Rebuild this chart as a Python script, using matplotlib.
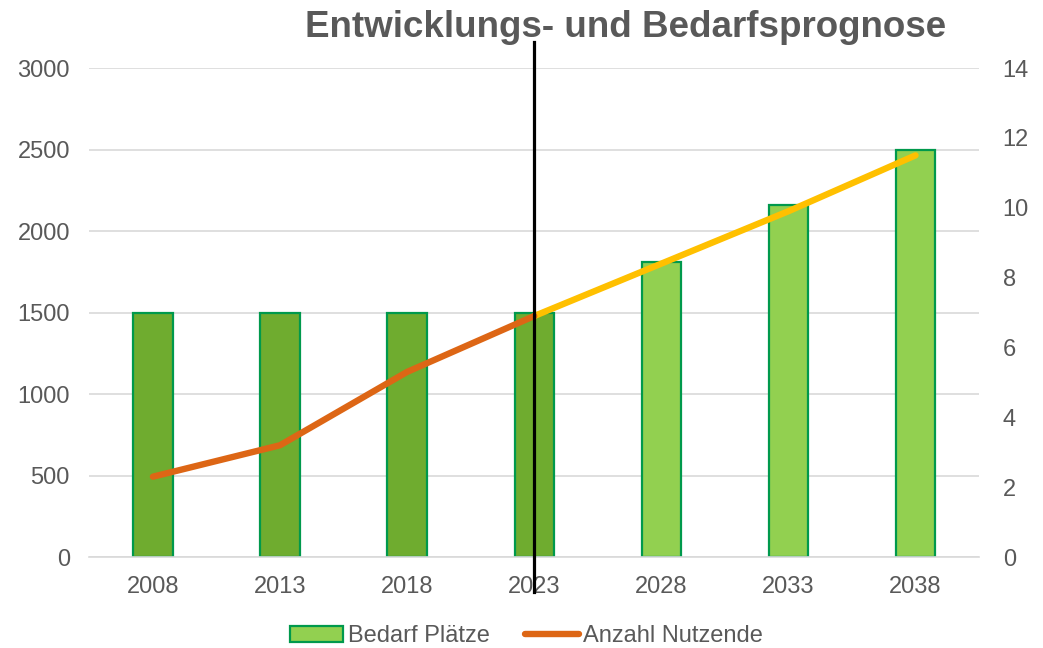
import matplotlib
matplotlib.use("Agg")
import matplotlib.pyplot as plt
from matplotlib.patches import Patch
from matplotlib.lines import Line2D
import numpy as np

years = ["2008", "2013", "2018", "2023", "2028", "2033", "2038"]
bedarf_plaetze = [1500, 1500, 1500, 1500, 1810, 2160, 2500]
anzahl_nutzende = [2.3, 3.2, 5.3, 6.9, 8.4, 9.9, 11.5]
left_ticks = [0, 500, 1000, 1500, 2000, 2500, 3000]
right_ticks = [0, 2, 4, 6, 8, 10, 12, 14]
current_index = 3  # 2023

plt.rcParams['font.family'] = ['Liberation Sans', 'DejaVu Sans']
TXT = '#595959'
DARK = '#6FAC2F'
LIGHT = '#92D050'
EDGE = '#00994C'
ORANGE = '#DD6615'
YELLOW = '#FFC000'
FS = 17

fig = plt.figure(figsize=(10.43, 6.48), dpi=100)
ax = fig.add_axes([0.0857, 0.1404, 0.853, 0.7546])
x = np.arange(len(years))
colors = [DARK if i <= current_index else LIGHT for i in range(len(years))]
ax.bar(x, bedarf_plaetze, width=0.31, color=colors, edgecolor=EDGE, linewidth=1.6, zorder=2)
ax.set_xlim(-0.5, len(years) - 0.5)
ax.set_ylim(0, 3000)
ax.set_yticks(left_ticks)
ax.set_xticks(x)
ax.set_xticklabels(years)
ax.yaxis.grid(True, color='#D9D9D9', linewidth=1.2, zorder=0)
ax.set_axisbelow(True)
for s in ['top', 'right', 'left']:
    ax.spines[s].set_visible(False)
ax.spines['bottom'].set_color('#D9D9D9')
ax.spines['bottom'].set_linewidth(1.2)
ax.tick_params(axis='both', length=0, labelsize=FS, labelcolor=TXT)
ax.tick_params(axis='y', pad=14)
ax.tick_params(axis='x', pad=14)

ax2 = ax.twinx()
ax2.set_ylim(0, 14)
ax2.set_yticks(right_ticks)
for s in ax2.spines.values():
    s.set_visible(False)
ax2.tick_params(axis='y', length=0, labelsize=FS, labelcolor=TXT, pad=17)
ax2.plot(x[current_index:], anzahl_nutzende[current_index:], color=YELLOW, linewidth=4.6,
         solid_capstyle='round', zorder=3)
ax2.plot(x[:current_index + 1], anzahl_nutzende[:current_index + 1], color=ORANGE, linewidth=4.6,
         solid_capstyle='round', zorder=4)
ax2.axvline(current_index, ymin=-0.0716, ymax=1.053, color='black', linewidth=2.3,
            clip_on=False, zorder=5)

fig.text(0.5997, 0.957, "Entwicklungs- und Bedarfsprognose", ha='center', va='center',
         fontsize=26.5, fontweight='bold', color=TXT)

handles = [Patch(facecolor=LIGHT, edgecolor=EDGE, linewidth=1.6),
           Line2D([0], [0], color=ORANGE, linewidth=4.6, solid_capstyle='round')]
fig.legend(handles, ["Bedarf Plätze", "Anzahl Nutzende"], loc='center',
           bbox_to_anchor=(0.505, 0.0185), ncol=2, frameon=False, fontsize=FS,
           labelcolor=TXT, handlelength=2.25, handletextpad=0.2, columnspacing=1.5,
           handleheight=0.65, borderaxespad=0, borderpad=0)

fig.savefig("out.png", dpi=100)
